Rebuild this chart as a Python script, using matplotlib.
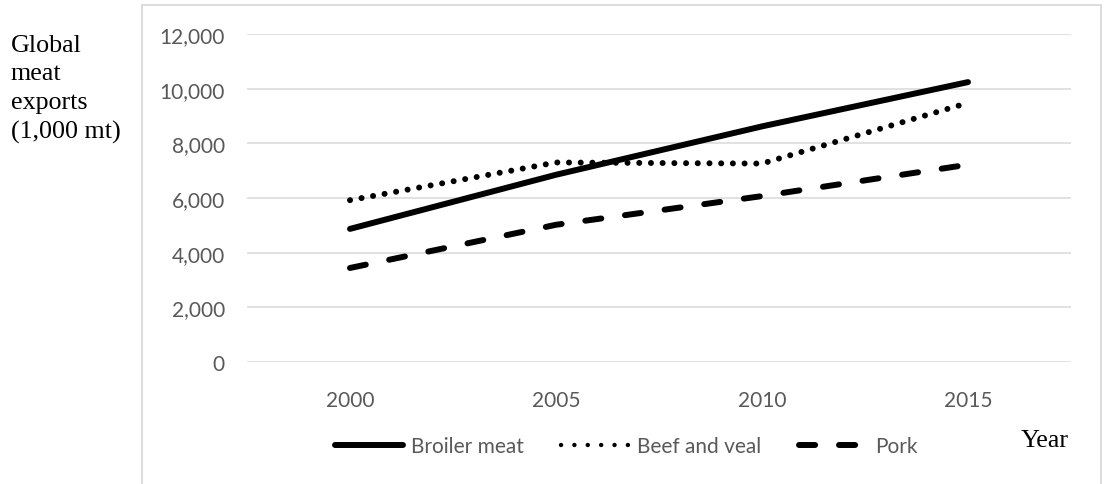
import matplotlib
matplotlib.use("Agg")
import matplotlib.pyplot as plt
from matplotlib.lines import Line2D
from matplotlib.patches import Rectangle
from matplotlib.ticker import FuncFormatter

years = ["2000", "2005", "2010", "2015"]
broiler = [4870, 6850, 8620, 10240]
beef = [5920, 7300, 7260, 9480]
pork = [3440, 5020, 6070, 7220]

W, H = 1104, 485
fig = plt.figure(figsize=(W / 100, H / 100), dpi=100)

# light frame around the chart area
fig.patches.append(Rectangle((142 / W, -0.1), (1101 - 142) / W, 1.1 - 6 / H,
                             transform=fig.transFigure, fill=False,
                             edgecolor="#d9d9d9", linewidth=1.3))

ax = fig.add_axes([247 / W, (H - 363) / H, 824 / W, 328 / H])
x = range(len(years))
lw = 4.3
ax.plot(x, broiler, color="black", lw=lw, solid_capstyle="round")
ax.plot(x, beef, color="black", lw=lw, linestyle=(0, (0.01, 1.95)),
        dash_capstyle="round")
ax.plot(x, pork, color="black", lw=lw, linestyle=(0, (2.7, 4.0)),
        dash_capstyle="round")

ax.set_xlim(-0.5, len(years) - 0.5)
ax.set_ylim(0, 12000)
ax.set_yticks(range(0, 12001, 2000))
ax.yaxis.set_major_formatter(FuncFormatter(lambda v, p: f"{int(v):,}"))
ax.set_xticks(list(x))
ax.set_xticklabels(years)
ax.grid(axis="y", color="#d9d9d9", lw=1.1)
ax.set_axisbelow(True)
for s in ax.spines.values():
    s.set_visible(False)
ax.tick_params(length=0, labelsize=15, labelcolor="#595959")
ax.tick_params(axis="y", pad=16)
ax.tick_params(axis="x", pad=20)
for t in ax.get_xticklabels() + ax.get_yticklabels():
    t.set_family("Lato")

handles = [
    Line2D([], [], color="black", lw=lw, solid_capstyle="round"),
    Line2D([], [], color="black", lw=3.2, linestyle=(0, (0.01, 3.0)),
           dash_capstyle="round"),
    Line2D([], [], color="black", lw=lw, linestyle=(0, (2.7, 4.0)),
           dash_capstyle="round"),
]
fig.legend(handles, ["Broiler meat", "Beef and veal", "Pork"], ncol=3,
           loc="center", bbox_to_anchor=(626 / W, (H - 447) / H),
           frameon=False, handlelength=3.3, handletextpad=0.35,
           columnspacing=1.8, prop={"family": "Lato", "size": 15},
           labelcolor="#595959")

fig.text(11 / W, 1 - 35 / H, "Global\nmeat\nexports\n(1,000 mt)",
         family="Liberation Serif", fontsize=18.7, va="top", ha="left",
         linespacing=1.38)
fig.text(1045 / W, (H - 441) / H, "Year", family="Liberation Serif",
         fontsize=18.7, va="center", ha="center")

fig.savefig("out.png", dpi=100)
